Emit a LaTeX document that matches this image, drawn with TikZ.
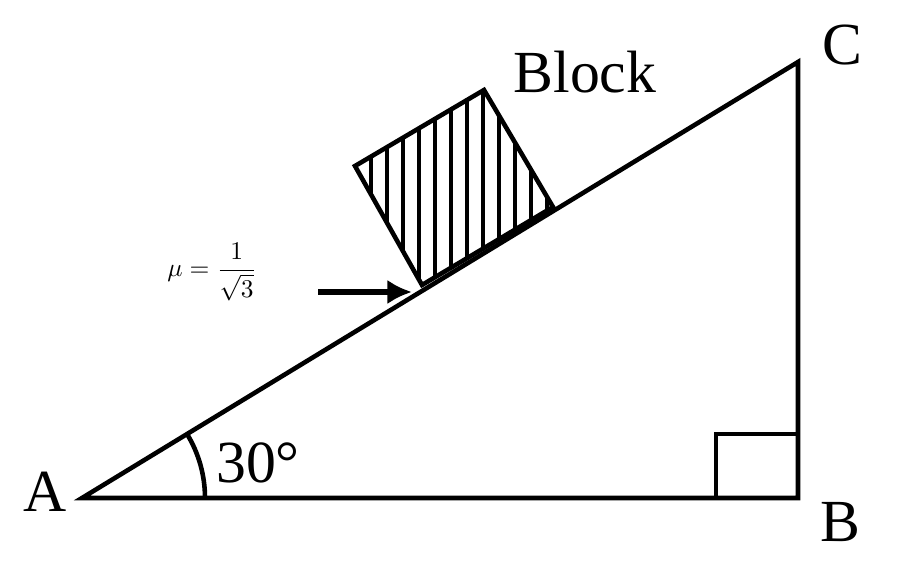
\documentclass[tikz,border=0pt]{standalone}
\usepackage{fontspec}
\usepackage{amsmath}
\usepackage{graphicx}
\usetikzlibrary{arrows.meta}
\setmainfont{Liberation Serif}
\begin{document}
\begin{tikzpicture}[x=0.02cm,y=-0.02cm,line width=2.6pt,
  lbl/.style={font=\fontsize{34}{40}\selectfont,inner sep=0}]
\useasboundingbox (0,0) rectangle (900,571);
\coordinate (A) at (82,498);
\coordinate (B) at (798,498);
\coordinate (C) at (798,62);
\draw[line join=miter] (A) -- (B) -- (C) -- cycle;
\draw (716,498) -- (716,434) -- (798,434);
\draw (205,498) arc[start angle=0,end angle=-31.3,radius=123];
% block
\coordinate (b1) at (422,285);
\coordinate (b2) at (553,207);
\coordinate (b3) at (484,90);
\coordinate (b4) at (355,166);
\begin{scope}
\clip (b1) -- (b2) -- (b3) -- (b4) -- cycle;
\foreach \x in {355,371,...,560} \draw[line width=2.2pt] (\x,80) -- (\x,300);
\end{scope}
\draw[line join=miter] (b1) -- (b2) -- (b3) -- (b4) -- cycle;
\draw[-{Latex[length=14pt,width=14pt]},line width=3pt] (318,292) -- (412,292);
\node[lbl] (la) at (45,492) {A};
\node[lbl] (lb) at (840,522) {B};
\node[lbl] (lc) at (842,45) {C};
\node[lbl] (blk) at (585,72) {Block};
\node[lbl] (ang) at (258,463) {30°};
\node[inner sep=0] (mu) at (212,272) {\scalebox{1.45}{$\mu=\dfrac{1}{\sqrt{3}}$}};
\end{tikzpicture}
\end{document}
